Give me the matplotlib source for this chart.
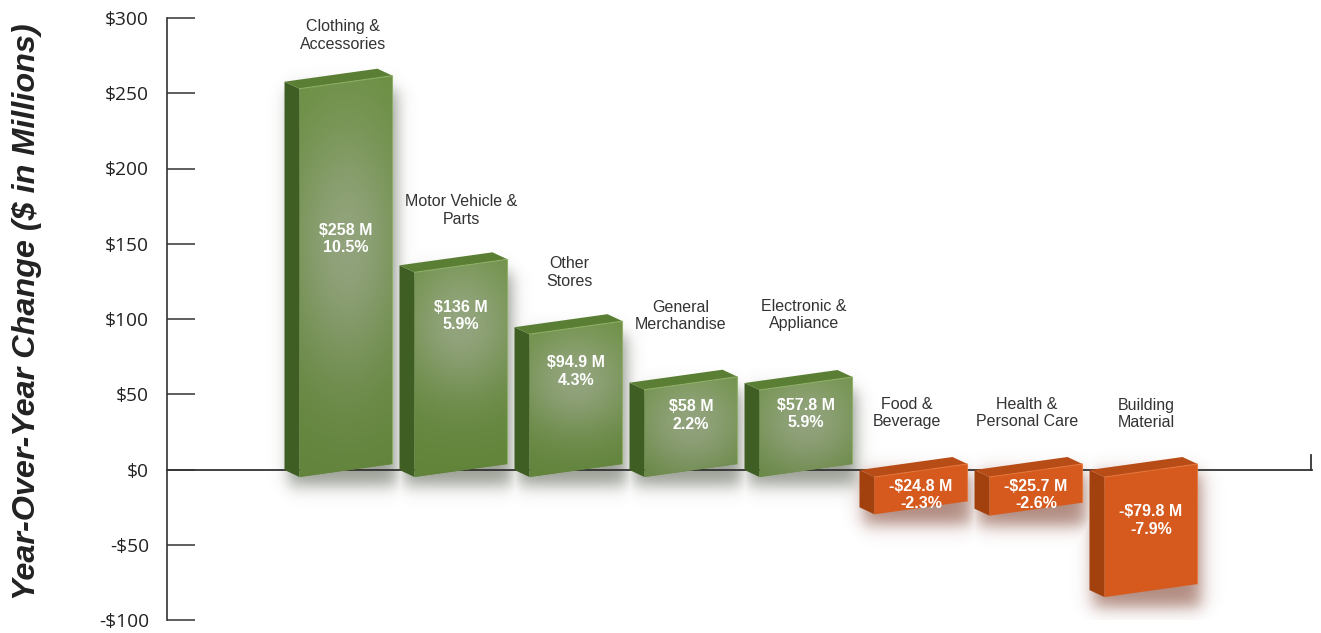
import numpy as np
import matplotlib
matplotlib.use("Agg")
import matplotlib.pyplot as plt
from matplotlib.patches import Polygon

# ---------------- data ----------------
categories = ["Clothing &\nAccessories", "Motor Vehicle &\nParts", "Other\nStores",
              "General\nMerchandise", "Electronic &\nAppliance", "Food &\nBeverage",
              "Health &\nPersonal Care", "Building\nMaterial"]
values = [258, 136, 94.9, 58, 57.8, -24.8, -25.7, -79.8]
value_labels = ["$258 M", "$136 M", "$94.9 M", "$58 M", "$57.8 M",
                "-$24.8 M", "-$25.7 M", "-$79.8 M"]
pct_labels = ["10.5%", "5.9%", "4.3%", "2.2%", "5.9%", "-2.3%", "-2.6%", "-7.9%"]
yticks = [-100, -50, 0, 50, 100, 150, 200, 250, 300]
ytick_labels = ["-$100", "-$50", "$0", "$50", "$100", "$150", "$200", "$250", "$300"]
ylabel = "Year-Over-Year Change ($ in Millions)"

# ---------------- layout / style ----------------
W_PX, H_PX = 1321, 633
AX_L, AX_R, AX_T, AX_B = 167, 1312, 18, 620          # axes box in pixels
XPX = 115.0                                           # pixels per category
X0 = (AX_L - 346) / XPX
X1 = (AX_R - 346) / XPX
YMIN, YMAX = -100, 300
PY = (YMAX - YMIN) / (AX_B - AX_T)                    # data units per pixel (y)

HALF_W = 46.5 / XPX
SLANT = 13 * PY
BASE_OFF = -1.0 * PY
DXL, DYL = -15 / XPX, 7 * PY
DXR, DYR = -15 / XPX, 7 * PY

# label anchor positions (text centers, data units)
value_label_y = [153, 102, 65, 36, 37, -17, -17, -34]
cat_label_y = [288.5, 172, 131, 102, 102.5, 37.5, 37.5, 37]
cat_label_dx_px = [-3, 0, -7, -10, -2, -14, -9, -5]

GREEN_EDGE = np.array([104, 141, 62]) / 255
GREEN_CENTER = np.array([150, 168, 128]) / 255
GREEN_SIDE = "#3f5e24"
GREEN_TOP = "#5a7f34"
GREEN_HI = "#93b36a"
ORANGE_FRONT = "#d65a1e"
ORANGE_SIDE = "#a3410e"
ORANGE_TOP = "#b84c17"
ORANGE_HI = "#e8763a"
DARK = "#333333"

fig = plt.figure(figsize=(W_PX / 100, H_PX / 100), dpi=100)
ax = fig.add_axes([AX_L / W_PX, (H_PX - AX_B) / H_PX,
                   (AX_R - AX_L) / W_PX, (AX_B - AX_T) / H_PX])
ax.set_xlim(X0, X1)
ax.set_ylim(YMIN, YMAX)

for s in ["top", "right", "bottom"]:
    ax.spines[s].set_visible(False)
ax.spines["left"].set_color(DARK)
ax.spines["left"].set_linewidth(1.2)
ax.set_xticks([])
ax.set_yticks(yticks)
ax.set_yticklabels(ytick_labels, fontfamily="Open Sans", fontsize=13.8, color="#222222")
ax.tick_params(axis="y", direction="in", length=20, width=1.1, color=DARK, pad=13)

# zero line and right end tick
ax.plot([X0, X1], [0, 0], color=DARK, lw=1.3, zorder=2, clip_on=False)
ax.plot([X1 - 1 / XPX, X1 - 1 / XPX], [0, 15 * PY], color=DARK, lw=1.3, zorder=2, clip_on=False)

# ---------------- shadows ----------------
gw, gh = AX_R - AX_L, AX_B - AX_T
xs = np.linspace(X0, X1, gw)
ys = np.linspace(YMIN, YMAX, gh)


def soft(coord, a, b, sig):
    return 0.5 * (np.tanh((coord - a) / sig) - np.tanh((coord - b) / sig))


sh_g = np.zeros((gh, gw))
sh_o = np.zeros((gh, gw))
for i, v in enumerate(values):
    L = i - HALF_W + DXL
    R = i + HALF_W + 4 / XPX
    if v >= 0:
        lo, hi = -16 * PY, v - 8 * PY
        fx = soft(xs, L + 4 / XPX, R, 9 / XPX)
        fy = soft(ys, lo, hi, 10 * PY)
        sh_g = np.maximum(sh_g, 0.55 * np.outer(fy, fx))
    else:
        lo, hi = v - 18 * PY, -4 * PY
        fx = soft(xs, L + 4 / XPX, R, 10 / XPX)
        fy = soft(ys, lo, hi, 10 * PY)
        sh_o = np.maximum(sh_o, 0.55 * np.outer(fy, fx))

img_g = np.zeros((gh, gw, 4))
img_g[..., :3] = np.array([70, 78, 60]) / 255
img_g[..., 3] = sh_g
img_o = np.zeros((gh, gw, 4))
img_o[..., :3] = np.array([110, 40, 20]) / 255
img_o[..., 3] = sh_o
ax.imshow(img_g, extent=(X0, X1, YMIN, YMAX), origin="lower", aspect="auto",
          zorder=1, interpolation="bilinear")
ax.imshow(img_o, extent=(X0, X1, YMIN, YMAX), origin="lower", aspect="auto",
          zorder=1, interpolation="bilinear")

# ---------------- bars ----------------
for i, v in enumerate(values):
    L, R = i - HALF_W, i + HALF_W
    if v >= 0:
        ybl, ybr = BASE_OFF - SLANT / 2, BASE_OFF + SLANT / 2
        ytl, ytr = v + ybl, v + ybr
    else:
        ytl, ytr = BASE_OFF - SLANT / 2, BASE_OFF + SLANT / 2
        ybl, ybr = v + ytl, v + ytr
    pos = v >= 0
    side_c = GREEN_SIDE if pos else ORANGE_SIDE
    top_c = GREEN_TOP if pos else ORANGE_TOP
    hi_c = GREEN_HI if pos else ORANGE_HI

    side = Polygon([(L, ybl), (L, ytl), (L + DXL, ytl + DYL), (L + DXL, ybl + DYL)],
                   closed=True, facecolor=side_c, edgecolor="none", zorder=3)
    top = Polygon([(L, ytl), (R, ytr), (R + DXR, ytr + DYR), (L + DXL, ytl + DYL)],
                  closed=True, facecolor=top_c, edgecolor="none", zorder=3)
    ax.add_patch(side)
    ax.add_patch(top)

    front = Polygon([(L, ybl), (R, ybr), (R, ytr), (L, ytl)], closed=True,
                    facecolor=(GREEN_EDGE if pos else ORANGE_FRONT), edgecolor="none", zorder=4)
    ax.add_patch(front)
    if pos:
        ylo, yhi = min(ybl, ybr), max(ytl, ytr)
        nx, ny = 80, 300
        gx = np.linspace(L, R, nx)
        gy = np.linspace(ylo, yhi, ny)
        GX, GY = np.meshgrid(gx, gy)
        h_px = (yhi - ylo) / PY
        cy = value_label_y[i] - 10 * PY
        rx = 60.0
        ry = max(55.0, 0.33 * h_px)
        d = ((GX - i) * XPX / rx) ** 2 + ((GY - cy) / PY / ry) ** 2
        t = np.exp(-d)
        vert = np.clip((GY - ylo) / max(yhi - ylo, 1e-6), 0, 1)
        rgb = GREEN_EDGE[None, None, :] * (1 - t[..., None]) + GREEN_CENTER[None, None, :] * t[..., None]
        rgb = rgb * (0.93 + 0.07 * vert[..., None])
        im = ax.imshow(np.clip(rgb, 0, 1), extent=(L, R, ylo, yhi), origin="lower",
                       aspect="auto", zorder=5, interpolation="bilinear")
        im.set_clip_path(front)

    # thin highlight on front top and right edges
    ax.plot([L, R, R], [ytl, ytr, ybr], color=hi_c, lw=0.8, alpha=0.8, zorder=6,
            solid_joinstyle="miter")

    # value labels
    ax.text(i, value_label_y[i], value_labels[i] + "\n" + pct_labels[i],
            ha="center", va="center", color="white", fontsize=11.5,
            fontweight="bold", fontfamily="Liberation Sans", linespacing=1.2, zorder=7)
    # category labels
    ax.text(i + cat_label_dx_px[i] / XPX, cat_label_y[i], categories[i],
            ha="center", va="center", color=DARK, fontsize=11.5,
            fontfamily="Liberation Sans", linespacing=1.2, zorder=7)

ax.set_xlim(X0, X1)
ax.set_ylim(YMIN, YMAX)

fig.text(27 / W_PX, (H_PX - 312) / H_PX, ylabel, rotation=90, ha="center", va="center",
         fontsize=23.3, fontweight="bold", fontstyle="italic", color="#222222",
         family=["Liberation Sans Narrow", "Liberation Sans", "DejaVu Sans"])

fig.savefig("out.png", dpi=100)
